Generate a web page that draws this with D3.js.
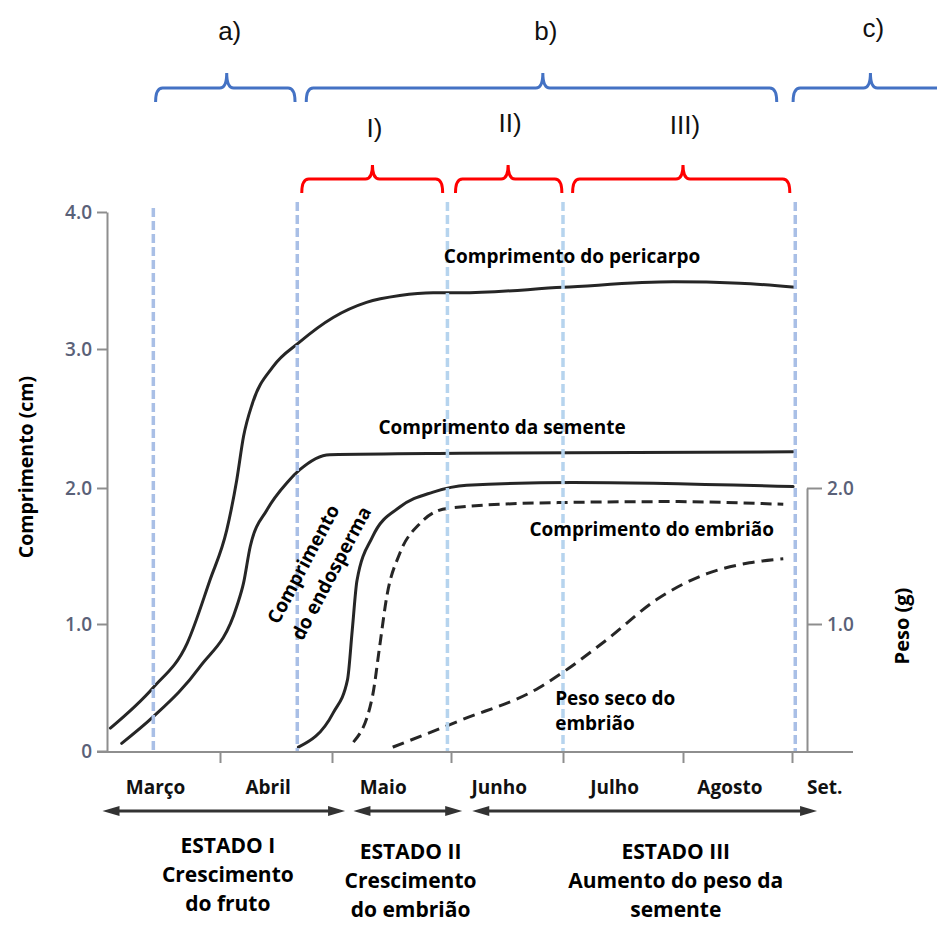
<!DOCTYPE html>
<html><head><meta charset="utf-8">
<script src="https://cdn.jsdelivr.net/npm/d3@7"></script>
<style>body{margin:0;background:#fff}svg{display:block}</style>
</head><body>
<svg id="chart" width="937" height="926"></svg>
<script>
// ---------- data ----------
const monthLabels = ["Março", "Abril", "Maio", "Junho", "Julho", "Agosto", "Set."];
const monthTicks = [1, 2, 3, 4, 5, 6];
const lengthTicks = [0, 1, 2, 3, 4];
const lengthTickLabels = ["0", "1.0", "2.0", "3.0", "4.0"];
const weightTicks = [1, 2];
const weightTickLabels = ["1.0", "2.0"];

// [month index (0 = início de março), comprimento cm]
const pericarpo = [[0.03,0.18],[0.41,0.50],[0.71,0.85],[0.91,1.32],[1.06,1.69],[1.15,2.06],[1.21,2.37],[1.29,2.61],[1.47,2.87],[1.71,3.05],[2.01,3.23],[2.29,3.34],[2.57,3.39],[2.85,3.41],[3.08,3.41],[4.0,3.45],[4.92,3.49],[5.52,3.48],[6.03,3.45]];
const semente = [[0.13,0.06],[0.41,0.27],[0.82,0.66],[1.15,1.13],[1.21,1.30],[1.27,1.57],[1.42,1.84],[1.60,2.04],[1.71,2.13],[1.98,2.24],[3.08,2.25],[6.01,2.26]];
const endosperma = [[1.70,0.03],[2.01,0.30],[2.13,0.56],[2.17,0.95],[2.21,1.32],[2.34,1.64],[2.57,1.86],[2.85,1.97],[3.14,2.02],[4.08,2.04],[6.01,2.01]];
const embriao = [[2.18,0.07],[2.34,0.43],[2.40,0.82],[2.46,1.20],[2.57,1.52],[2.74,1.74],[2.97,1.85],[3.79,1.89],[4.92,1.90],[5.92,1.88]];
// [month index, peso g]
const pesoSeco = [[2.51,0.03],[3.08,0.24],[3.79,0.50],[4.0,0.62],[4.37,0.88],[4.78,1.18],[5.22,1.37],[5.61,1.45],[5.92,1.48]];

// phase boundaries (months)
const phaseLines = [0.41, 1.69, 2.97, 4.0, 6.03];
const phaseLineKind = ["a", "a", "b", "b", "a"];
const phaseNames = ["a)", "b)", "c)"];
const phaseStart = [0.43, 1.77, 6.01];
const phaseEnd = [1.67, 5.86, 7.6];
const phaseMid = [1.06, 3.82, 6.72];
const subNames = ["I)", "II)", "III)"];
const subStart = [1.73, 3.04, 4.08];
const subEnd = [2.93, 3.99, 5.98];
const subMid = [2.34, 3.51, 5.0];
const stageLines = [["ESTADO I", "Crescimento", "do fruto"], ["ESTADO II", "Crescimento", "do embrião"], ["ESTADO III", "Aumento do peso da", "semente"]];
const stageStart = [-0.04, 2.18, 3.19];
const stageEnd = [2.11, 3.10, 6.23];
const stageCenter = [1.07, 2.66, 4.94];

// ---------- scales ----------
const svg = d3.select("#chart");
const x = d3.scaleLinear().domain([0, 1, 2, 3, 4, 5, 6, 6.56]).range([107, 220, 332, 451, 563, 683, 792, 853]);
const y = d3.scaleLinear().domain([0, 1, 2, 3, 4]).range([751, 624, 488, 349, 212]);
const w = d3.scaleLinear().domain([0, 1, 2]).range([751, 624, 488]);

const boldFont = "'Open Sans', 'DejaVu Sans', sans-serif";
const axisColor = "#8e8e8e";

// ---------- axes ----------
const yAxis = svg.append("g").attr("transform", "translate(107,0)")
  .call(d3.axisLeft(y).tickValues(lengthTicks).tickFormat((d, i) => lengthTickLabels[i]).tickSize(10).tickSizeOuter(0).tickPadding(5));
yAxis.select(".domain").attr("stroke", axisColor).attr("stroke-width", 2);
yAxis.selectAll(".tick line").attr("stroke", axisColor).attr("stroke-width", 2);
yAxis.selectAll(".tick text").attr("font-family", boldFont).attr("font-weight", 600).attr("font-size", 19).attr("fill", "#5a6178");

const wAxis = svg.append("g").attr("transform", "translate(807,0)")
  .call(d3.axisRight(w).tickValues(weightTicks).tickFormat((d, i) => weightTickLabels[i]).tickSize(15).tickSizeOuter(0).tickPadding(5));
wAxis.select(".domain").attr("stroke", axisColor).attr("stroke-width", 2);
wAxis.selectAll(".tick line").attr("stroke", axisColor).attr("stroke-width", 2);
wAxis.selectAll(".tick text").attr("font-family", boldFont).attr("font-weight", 600).attr("font-size", 19).attr("fill", "#5a6178");

// x axis baseline
svg.append("line").attr("x1", x(0) - 10).attr("x2", x(6.56)).attr("y1", y(0) + 1).attr("y2", y(0) + 1)
  .attr("stroke", axisColor).attr("stroke-width", 2);
const xAxis = svg.append("g").attr("transform", `translate(0,${y(0) + 1})`)
  .call(d3.axisBottom(x).tickValues(monthTicks).tickFormat("").tickSize(11).tickSizeOuter(0));
xAxis.select(".domain").remove();
xAxis.selectAll(".tick line").attr("stroke", axisColor).attr("stroke-width", 2);

svg.append("g").selectAll("text").data(monthLabels).join("text")
  .attr("x", (d, i) => i < 6 ? x(i + 0.43) : x(6.3))
  .attr("y", 794)
  .attr("text-anchor", "middle")
  .attr("font-family", boldFont).attr("font-weight", 700).attr("font-size", 19).attr("fill", "#111")
  .text(d => d);

// axis titles
svg.append("text").attr("transform", "translate(33,467) rotate(-90)").attr("text-anchor", "middle")
  .attr("font-family", boldFont).attr("font-weight", 700).attr("font-size", 19.5).attr("fill", "#000")
  .text("Comprimento (cm)");
svg.append("text").attr("transform", "translate(909,626) rotate(-90)").attr("text-anchor", "middle")
  .attr("font-family", boldFont).attr("font-weight", 700).attr("font-size", 20).attr("fill", "#000")
  .text("Peso (g)");

// ---------- curves ----------
const lineL = d3.line().x(d => x(d[0])).y(d => y(d[1])).curve(d3.curveMonotoneX);
const lineW = d3.line().x(d => x(d[0])).y(d => w(d[1])).curve(d3.curveMonotoneX);
const curveColor = "#262626";
[pericarpo, semente, endosperma].forEach(s => {
  svg.append("path").attr("d", lineL(s)).attr("fill", "none").attr("stroke", curveColor)
    .attr("stroke-width", 3).attr("stroke-linecap", "round");
});
svg.append("path").attr("d", lineL(embriao)).attr("fill", "none").attr("stroke", curveColor)
  .attr("stroke-width", 3).attr("stroke-dasharray", "11,6");
svg.append("path").attr("d", lineW(pesoSeco)).attr("fill", "none").attr("stroke", curveColor)
  .attr("stroke-width", 3).attr("stroke-dasharray", "12,7");

// ---------- phase dashed verticals ----------
svg.append("g").selectAll("line").data(phaseLines).join("line")
  .attr("x1", d => x(d)).attr("x2", d => x(d))
  .attr("y1", (d, i) => i === 0 ? 208 : 202).attr("y2", y(0))
  .attr("stroke", (d, i) => phaseLineKind[i] === "a" ? "#a9bfe6" : "#b6d4ee")
  .attr("stroke-width", 3.5).attr("stroke-dasharray", "9,4");

// ---------- curve labels ----------
function label(txt, px, py, size) {
  svg.append("text").attr("x", px).attr("y", py)
    .attr("font-family", boldFont).attr("font-weight", 700).attr("font-size", size || 19).attr("fill", "#000")
    .text(txt);
}
label("Comprimento do pericarpo", x(2.94), y(3.63));
label("Comprimento da semente", x(2.39), y(2.39));
label("Comprimento do embrião", x(3.70), y(1.65));
label("Peso seco do", x(3.93), w(0.36));
label("embrião", x(3.93), w(0.165));
const endo = svg.append("text").attr("transform", `translate(${x(1.52)},${y(0.99)}) rotate(-62)`)
  .attr("font-family", boldFont).attr("font-weight", 700).attr("font-size", 19).attr("fill", "#000");
endo.append("tspan").attr("x", 0).attr("y", 0).text("Comprimento");
endo.append("tspan").attr("x", -3).attr("y", 29).text("do endosperma");

// ---------- brackets ----------
function bracket(x1, x2, xc, yb, yh, yt, r) {
  return `M${x1},${yb} Q${x1},${yh} ${x1 + r},${yh} L${xc - r},${yh} Q${xc},${yh} ${xc},${yt} ` +
         `Q${xc},${yh} ${xc + r},${yh} L${x2 - r},${yh} Q${x2},${yh} ${x2},${yb}`;
}
const topFont = "'Liberation Sans', Arial, sans-serif";
phaseNames.forEach((n, i) => {
  svg.append("path").attr("d", bracket(x(phaseStart[i]), x(phaseEnd[i]), x(phaseMid[i]), 102, 88, 73, 7))
    .attr("fill", "none").attr("stroke", "#4472c4").attr("stroke-width", 3);
  svg.append("text").attr("x", x(phaseMid[i]) + 3).attr("y", i === 2 ? 37 : 40).attr("text-anchor", "middle")
    .attr("font-family", topFont).attr("font-size", 26).attr("fill", "#111").text(n);
});
subNames.forEach((n, i) => {
  svg.append("path").attr("d", bracket(x(subStart[i]), x(subEnd[i]), x(subMid[i]), 193, 179, 165, 7))
    .attr("fill", "none").attr("stroke", "#ff0000").attr("stroke-width", 3);
  svg.append("text").attr("x", x(subMid[i]) + 2).attr("y", [137, 132, 134][i]).attr("text-anchor", "middle")
    .attr("font-family", topFont).attr("font-size", 26).attr("fill", "#111").text(n);
});

// ---------- stage arrows ----------
const arrowY = 811;
function arrowHead(xt, dir) {
  const L = 17, H = 5;
  return `M${xt},${arrowY} L${xt - dir * L},${arrowY - H} L${xt - dir * L},${arrowY + H} Z`;
}
stageLines.forEach((lines, i) => {
  const a = x(stageStart[i]), b = x(stageEnd[i]);
  svg.append("line").attr("x1", a + 8).attr("x2", b - 8).attr("y1", arrowY).attr("y2", arrowY)
    .attr("stroke", "#333").attr("stroke-width", 3);
  svg.append("path").attr("d", arrowHead(a, -1)).attr("fill", "#333");
  svg.append("path").attr("d", arrowHead(b, 1)).attr("fill", "#333");
  const base = i === 0 ? 853 : 859;
  lines.forEach((t, j) => {
    svg.append("text").attr("x", x(stageCenter[i])).attr("y", base + j * 29).attr("text-anchor", "middle")
      .attr("font-family", boldFont).attr("font-weight", 700).attr("font-size", 21).attr("fill", "#000")
      .text(t);
  });
});
</script>
</body></html>
